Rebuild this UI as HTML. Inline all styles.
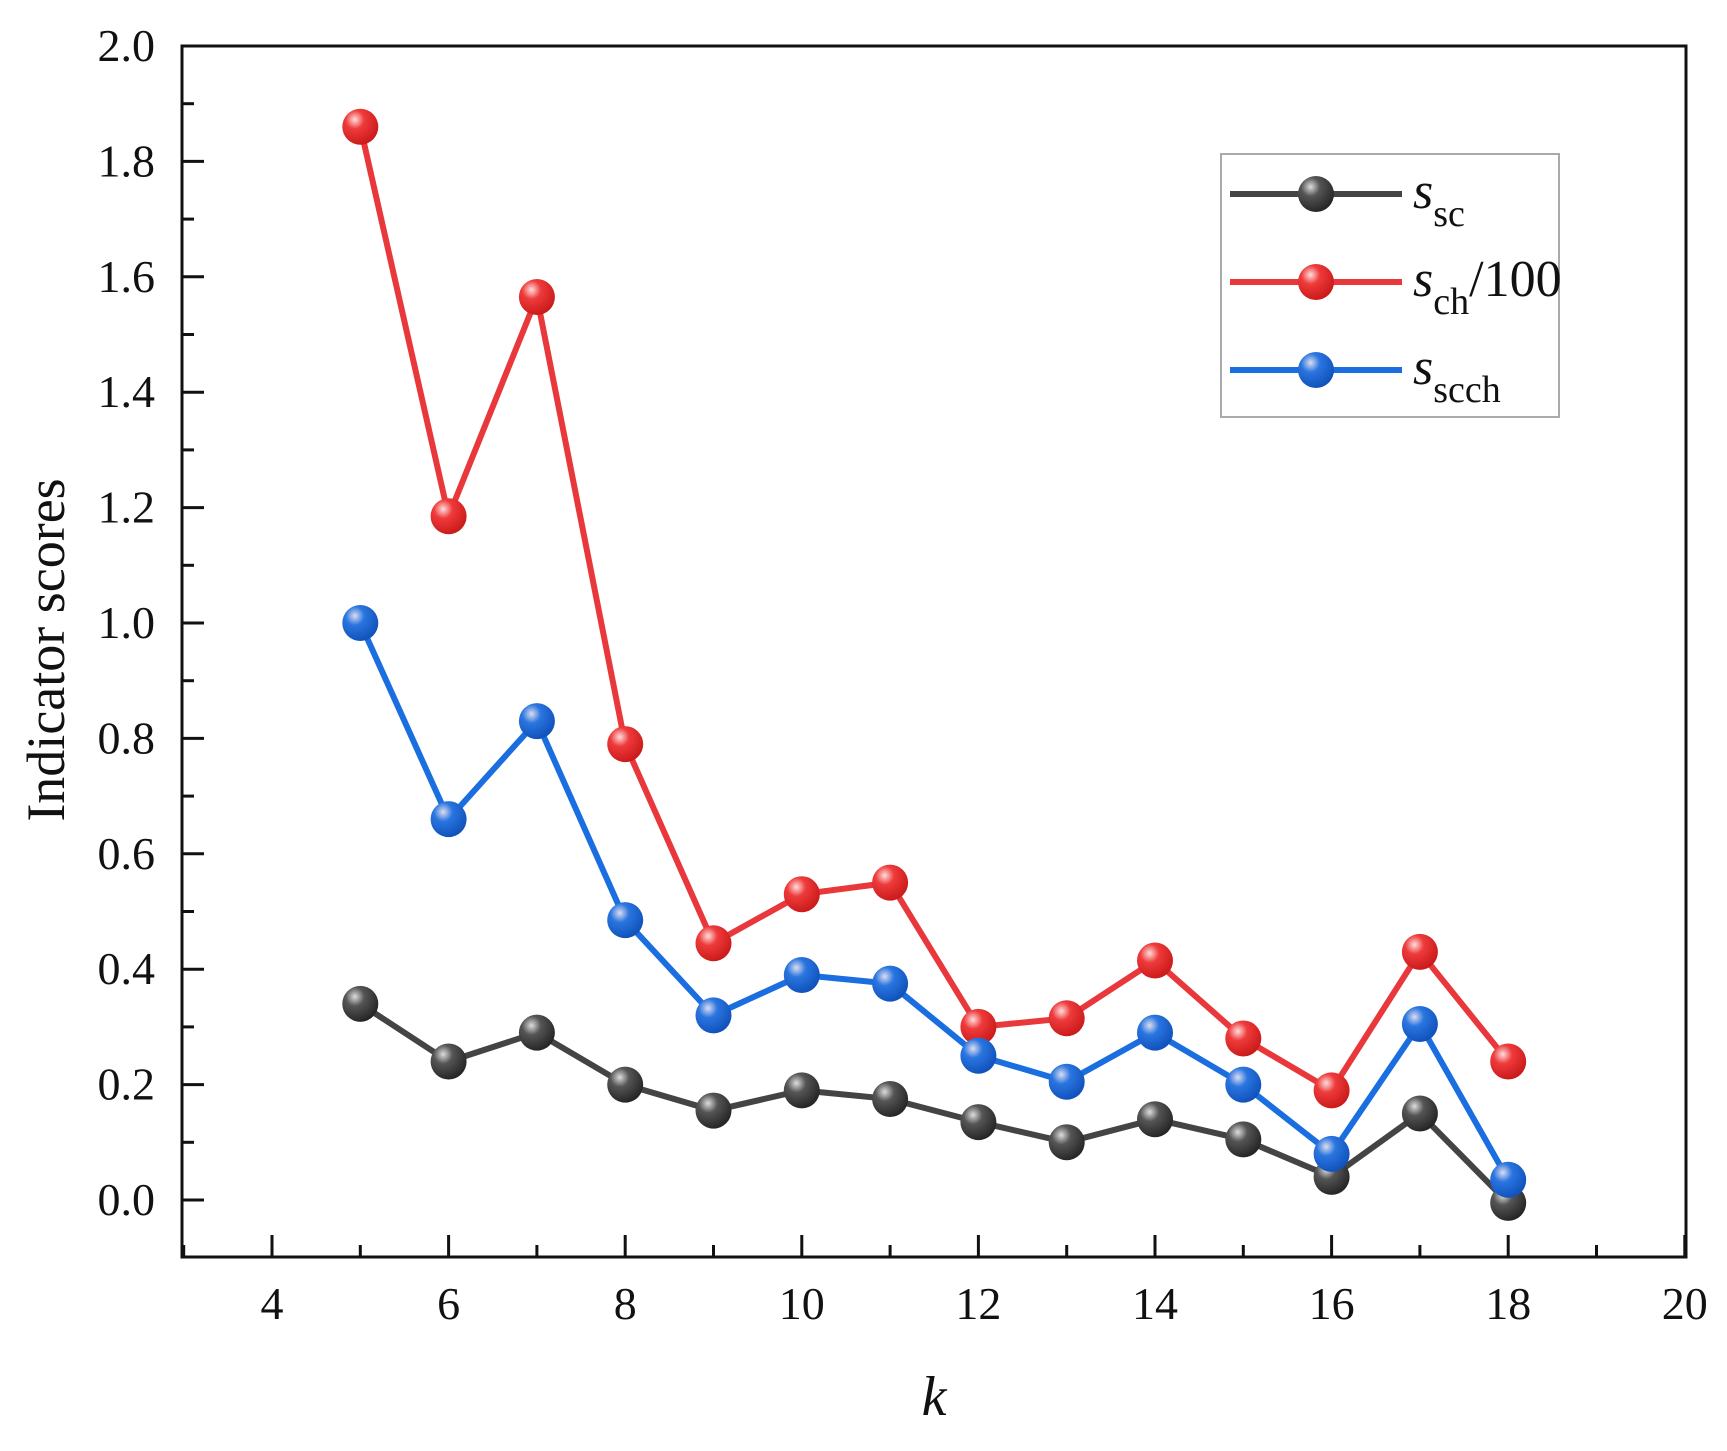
<!DOCTYPE html>
<html><head><meta charset="utf-8"><style>
html,body{margin:0;padding:0;background:#fff;}
svg{display:block;font-family:"Liberation Serif","DejaVu Serif",serif;}
</style></head><body>
<svg id="chart" width="1727" height="1451" viewBox="0 0 1727 1451">
<defs>
<radialGradient id="gk" cx="0.35" cy="0.3" r="0.75"><stop offset="0" stop-color="#ddd"/><stop offset="0.35" stop-color="#555"/><stop offset="1" stop-color="#222"/></radialGradient>
<radialGradient id="gr" cx="0.35" cy="0.3" r="0.75"><stop offset="0" stop-color="#fdd"/><stop offset="0.35" stop-color="#ee3a3a"/><stop offset="1" stop-color="#c81818"/></radialGradient>
<radialGradient id="gb" cx="0.35" cy="0.3" r="0.75"><stop offset="0" stop-color="#dde"/><stop offset="0.35" stop-color="#2a75e0"/><stop offset="1" stop-color="#0f4fb8"/></radialGradient>
</defs>
<g id="plot"></g>
</svg>
<script>
const kValues=[5,6,7,8,9,10,11,12,13,14,15,16,17,18];
const ssc=[0.34,0.24,0.29,0.20,0.155,0.19,0.175,0.135,0.10,0.14,0.105,0.04,0.15,-0.005];
const sch=[1.86,1.185,1.565,0.79,0.445,0.53,0.55,0.30,0.315,0.415,0.28,0.19,0.43,0.24];
const sscch=[1.0,0.66,0.83,0.485,0.32,0.39,0.375,0.25,0.205,0.29,0.20,0.08,0.305,0.035];
const xTicks=[4,6,8,10,12,14,16,18,20];
const yTicks=[0.0,0.2,0.4,0.6,0.8,1.0,1.2,1.4,1.6,1.8,2.0];

const NS="http://www.w3.org/2000/svg";
const g=document.getElementById('plot');
const L=182,R=1686,T=46,B=1257;
function X(v){return 272+(v-4)*88.3;}
function Y(v){return 1200-v*577;}
function el(t,a,p){const e=document.createElementNS(NS,t);for(const k in a)e.setAttribute(k,a[k]);(p||g).appendChild(e);return e;}

const frame=el('rect',{x:L,y:T,width:R-L,height:B-T,fill:'none',stroke:'#111','stroke-width':3});



for(let v=3;v<=20;v++){
  const major=xTicks.includes(v);
  const t=el('line',{x1:X(v),x2:X(v),y1:B,y2:B-(major?22:12),stroke:'#111','stroke-width':3});
  
  
}
xTicks.forEach(v=>{
  const t=el('text',{x:X(v),y:B+62,'font-size':46,'text-anchor':'middle',fill:'#111'});
  t.textContent=v;
  
  
});
for(let i=-1;i<=20;i++){
  const v=i/10;
  if(Y(v)>B||Y(v)<T)continue;
  const major=i%2===0;
  const t=el('line',{x1:L,x2:L+(major?22:12),y1:Y(v),y2:Y(v),stroke:'#111','stroke-width':3});
  
  
}
yTicks.forEach(v=>{
  const t=el('text',{x:155,y:Y(v)+15,'font-size':46,'text-anchor':'end',fill:'#111'});
  t.textContent=v.toFixed(1);
  
  
});
const yl=el('text',{x:0,y:0,'font-size':54,'text-anchor':'middle',fill:'#111',transform:'translate(64,650) rotate(-90)'});
yl.textContent='Indicator scores';


const xl=el('text',{x:934,y:1415,'font-size':56,'font-style':'italic','text-anchor':'middle',fill:'#111'});
xl.textContent='k';



const series=[[ssc,'#444','url(#gk)','ssc'],[sch,'#e8383c','url(#gr)','sch'],[sscch,'#1a6ee0','url(#gb)','sscch']];
series.forEach(([vals,col,grad,nm])=>{
  const pts=vals.map((v,i)=>X(kValues[i])+','+Y(v)).join(' ');
  const pl=el('polyline',{points:pts,fill:'none',stroke:col,'stroke-width':6,'stroke-linejoin':'round'});
  
  
});
series.forEach(([vals,col,grad,nm])=>{
  vals.forEach((v,i)=>{
    const c=el('circle',{cx:X(kValues[i]),cy:Y(v),r:18,fill:grad});
    
    
  });
});

const lg=el('g',{});


el('rect',{x:1221,y:154,width:338,height:263,fill:'#fff',stroke:'#aaa','stroke-width':2},lg);
const labels=[['sc',''],['ch','/100'],['scch','']];
[194,282,370].forEach((yy,i)=>{
  const e=el('g',{},lg);
  
  
  el('line',{x1:1230,x2:1402,y1:yy,y2:yy,stroke:series[i][1],'stroke-width':6},e);
  el('circle',{cx:1316,cy:yy,r:18,fill:series[i][2]},e);
  const t=el('text',{x:1413,y:yy+14,'font-size':52,fill:'#111'},e);
  const s1=el('tspan',{'font-style':'italic'},t);s1.textContent='s';
  const s2=el('tspan',{'font-size':38,dy:18},t);s2.textContent=labels[i][0];
  if(labels[i][1]){const s3=el('tspan',{dy:-18},t);s3.textContent=labels[i][1];}
});
</script>
</body></html>
